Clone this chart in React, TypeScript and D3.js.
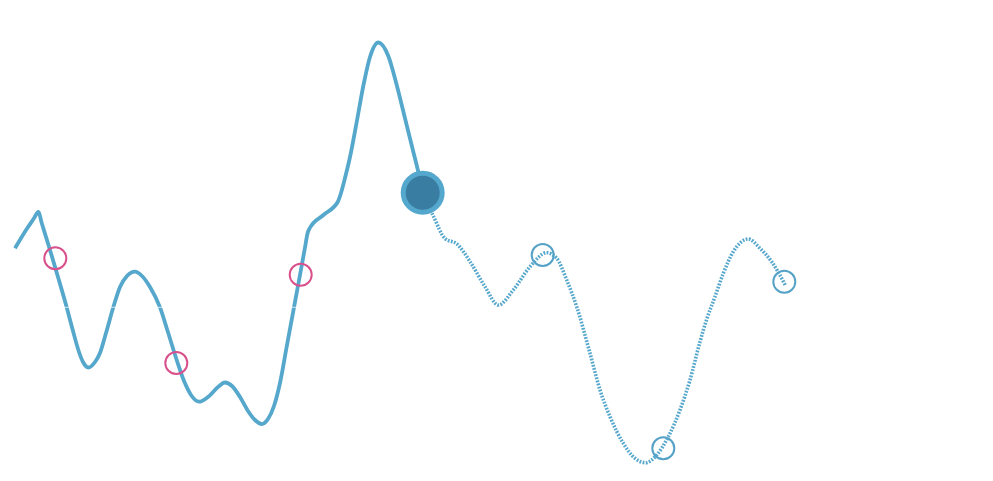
import React from "react";
import * as d3 from "d3";

// observed series — solid (actual) part
const actualX = [1.5, 2.67, 3.4, 3.83, 4.2, 5.0, 5.8, 6.67, 7.3, 7.9, 8.3, 8.83, 9.5, 10.0, 10.6, 11.33, 12.0, 12.7, 13.5, 14.2, 15.0, 16.0, 16.83, 17.67, 18.5, 19.17, 19.9, 20.83, 21.83, 22.5, 23.2, 24.0, 24.8, 25.5, 26.17, 26.8, 27.4, 28.0, 28.7, 29.4, 30.0, 30.5, 30.75, 30.95, 32.4, 33.8, 34.1, 34.5, 35.0, 35.67, 36.33, 37.0, 37.83, 38.83, 39.67, 40.5, 41.33, 41.83, 42.27];
const actualY = [44.34, 48.2, 50.34, 51.6, 49.2, 44.0, 38.6, 32.54, 27.8, 23.6, 21.6, 20.5, 21.6, 23.4, 27.4, 32.54, 36.6, 38.8, 39.66, 38.8, 36.6, 32.54, 27.34, 22.0, 17.34, 14.8, 13.66, 14.66, 16.66, 17.5, 16.8, 14.6, 11.8, 10.0, 9.2, 10.2, 12.8, 17.4, 25.0, 32.54, 39.0, 44.5, 47.3, 48.3, 51.1, 53.7, 55.4, 58.4, 62.6, 69.6, 76.8, 82.6, 85.5, 82.8, 77.0, 70.34, 63.66, 59.6, 55.46];

// forecast (dotted) part
const forecastX = [42.27, 43.33, 44.5, 45.7, 47.0, 48.5, 49.83, 51.33, 53.0, 54.67, 55.67, 56.67, 57.67, 59.0, 60.0, 61.0, 62.33, 63.5, 64.57, 65.67, 66.83, 68.0, 69.0, 70.0, 70.67, 71.5, 72.33, 73.33, 74.83, 76.0, 77.17, 78.57];
const forecastY = [55.46, 50.8, 46.3, 45.2, 41.7, 36.66, 33.0, 36.0, 40.66, 43.46, 42.34, 38.0, 32.66, 23.34, 16.0, 10.66, 5.34, 2.34, 1.46, 3.0, 6.66, 12.0, 18.0, 25.66, 30.14, 34.66, 39.34, 43.66, 46.2, 44.34, 41.66, 36.8];

// markers
const pinkX = [5.53, 17.63, 30.07];
const pinkY = [42.34, 21.4, 39.06];
const blueX = [54.27, 66.33, 78.43];
const blueY = [43.0, 4.34, 37.66];
const currentX = [42.27];
const currentY = [55.46];

const baselineValue = 32.54;

const W = 993;
const H = 481;

export default function App() {
  const x = d3.scaleLinear().domain([0, 99.3]).range([0, 993]);
  const y = d3.scaleLinear().domain([0, 90]).range([470, 20]);

  const line = d3
    .line<[number, number]>()
    .x((d) => x(d[0]))
    .y((d) => y(d[1]))
    .curve(d3.curveMonotoneX);

  const actual = actualX.map((v, i) => [v, actualY[i]] as [number, number]);
  const forecast = forecastX.map((v, i) => [v, forecastY[i]] as [number, number]);

  return (
    <svg
      width={W}
      height={H}
      style={{ position: "absolute", left: 0, top: 0, background: "#fff" }}
    >
      <path d={line(actual) || ""} fill="none" stroke="#55a7cc" strokeWidth={3.8} />
      <path
        d={line(forecast) || ""}
        fill="none"
        stroke="#55a7cc"
        strokeWidth={3.6}
        strokeDasharray="1.8,1.4"
      />
      <line
        x1={x(1.5)}
        x2={x(32)}
        y1={y(baselineValue)}
        y2={y(baselineValue)}
        stroke="#fff"
        strokeWidth={0.8}
        opacity={0.9}
      />
      {pinkX.map((v, i) => (
        <circle
          key={"p" + i}
          cx={x(v)}
          cy={y(pinkY[i])}
          r={11}
          fill="none"
          stroke="#d9518c"
          strokeWidth={2}
        />
      ))}
      {blueX.map((v, i) => (
        <circle
          key={"b" + i}
          cx={x(v)}
          cy={y(blueY[i])}
          r={11}
          fill="none"
          stroke="#55a2c6"
          strokeWidth={2}
        />
      ))}
      {currentX.map((v, i) => (
        <circle
          key={"c" + i}
          cx={x(v)}
          cy={y(currentY[i])}
          r={19.5}
          fill="#3a7da2"
          stroke="#55a8cd"
          strokeWidth={5}
        />
      ))}
    </svg>
  );
}
